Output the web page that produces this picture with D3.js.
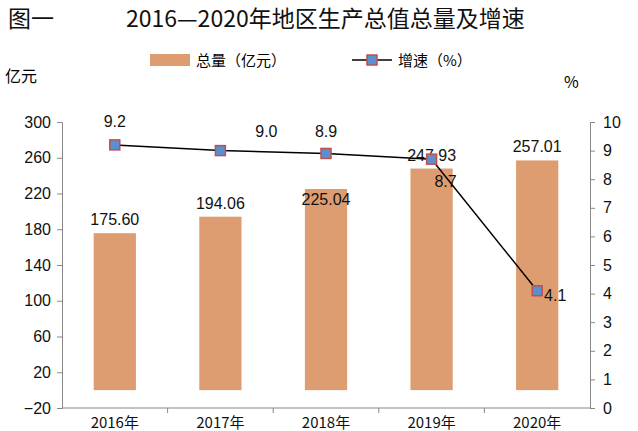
<!DOCTYPE html>
<html><head><meta charset="UTF-8">
<script src="https://d3js.org/d3.v7.min.js"></script>
<style>body{margin:0;background:#fff}text{font-family:"Noto Sans CJK SC","Liberation Sans",sans-serif}</style>
</head><body><svg id="c" width="638" height="431"></svg>
<script>
const years = ["2016年","2017年","2018年","2019年","2020年"];
const gdp = [175.60, 194.06, 225.04, 247.93, 257.01];
const growth = [9.2, 9.0, 8.9, 8.7, 4.1];
const leftTicks = [-20,20,60,100,140,180,220,260,300];
const rightTicks = [0,1,2,3,4,5,6,7,8,9,10];
// label nudges (px)
const barLabOff = [[0,-8],[0,-8],[0,16],[0,-8],[0,-8]];
const lineLabOff = [[0,-24],[46,-20],[0,-22],[14,22],[18,4]];

const svg = d3.select("#c");
const L=62,R=590,T=122,B=408;
const x = d3.scaleBand().domain(years).range([L,R]).paddingInner(0.6).paddingOuter(0.3);
const xc = d3.scaleBand().domain(years).range([L,R]);
const y = d3.scaleLinear().domain([-20,300]).range([B,T]);
const y2 = d3.scaleLinear().domain([0,10]).range([B,T]);

svg.append("text").attr("x",8).attr("y",27).attr("font-size",23).attr("fill","#111")
  .text("图一").append("tspan").attr("x",126).text("2016—2020年地区生产总值总量及增速");

// legend
svg.append("rect").attr("x",150).attr("y",54).attr("width",40).attr("height",12).attr("fill","#DE9D70");
svg.append("text").attr("x",196).attr("y",66).attr("font-size",15).text("总量（亿元）");
svg.append("line").attr("x1",352).attr("x2",392).attr("y1",60).attr("y2",60).attr("stroke","#000").attr("stroke-width",1.5);
svg.append("rect").attr("x",367).attr("y",55).attr("width",10).attr("height",10).attr("fill","#5B8FD0").attr("stroke","#C0504D").attr("stroke-width",1.5);
svg.append("text").attr("x",398).attr("y",66).attr("font-size",15).text("增速（%）");
svg.append("text").attr("x",5).attr("y",82).attr("font-size",16).text("亿元");
svg.append("text").attr("x",564).attr("y",88).attr("font-size",16).text("%");

// axes
const la = svg.append("g").attr("transform",`translate(${L},0)`)
  .call(d3.axisLeft(y).tickValues(leftTicks).tickSize(5).tickPadding(6));
const ra = svg.append("g").attr("transform",`translate(${R},0)`)
  .call(d3.axisRight(y2).tickValues(rightTicks).tickSize(5).tickPadding(8));
[la,ra].forEach(a=>{a.select(".domain").attr("stroke","#888");a.selectAll("line").attr("stroke","#888");
  a.selectAll("text").attr("font-size",16).attr("fill","#111").style("font-family","Liberation Sans");});
svg.append("line").attr("x1",L).attr("x2",R).attr("y1",B).attr("y2",B).attr("stroke","#888");
years.forEach((d,i)=>{
  const xx = xc(d);
  if(i>0) svg.append("line").attr("x1",xx).attr("x2",xx).attr("y1",B).attr("y2",B+5).attr("stroke","#888");
  svg.append("text").attr("x",xx+xc.bandwidth()/2).attr("y",B+20).attr("text-anchor","middle").attr("font-size",15).attr("fill","#111").text(d);
});

// bars
svg.selectAll(".bar").data(gdp).join("rect")
  .attr("x",(d,i)=>x(years[i])).attr("width",x.bandwidth())
  .attr("y",d=>y(d)).attr("height",d=>y(0)-y(d)).attr("fill","#DE9D70");
svg.selectAll(".bl").data(gdp).join("text")
  .attr("x",(d,i)=>x(years[i])+x.bandwidth()/2+barLabOff[i][0]).attr("y",(d,i)=>y(d)+barLabOff[i][1])
  .attr("text-anchor","middle").attr("font-size",16).attr("fill","#111").style("font-family","Liberation Sans")
  .text(d=>d.toFixed(2));

// line
const cx = i => xc(years[i])+xc.bandwidth()/2;
svg.append("path").datum(growth).attr("fill","none").attr("stroke","#000").attr("stroke-width",1.5)
  .attr("d",d3.line().x((d,i)=>cx(i)).y(d=>y2(d)));
svg.selectAll(".m").data(growth).join("rect")
  .attr("x",(d,i)=>cx(i)-5).attr("y",d=>y2(d)-5).attr("width",10).attr("height",10)
  .attr("fill","#5B8FD0").attr("stroke","#C0504D").attr("stroke-width",1.5);
svg.selectAll(".ll").data(growth).join("text")
  .attr("x",(d,i)=>cx(i)+lineLabOff[i][0]).attr("y",(d,i)=>y2(d)+lineLabOff[i][1]+6)
  .attr("text-anchor","middle").attr("font-size",16).attr("fill","#111").style("font-family","Liberation Sans")
  .text(d=>d.toFixed(1));
</script></body></html>
